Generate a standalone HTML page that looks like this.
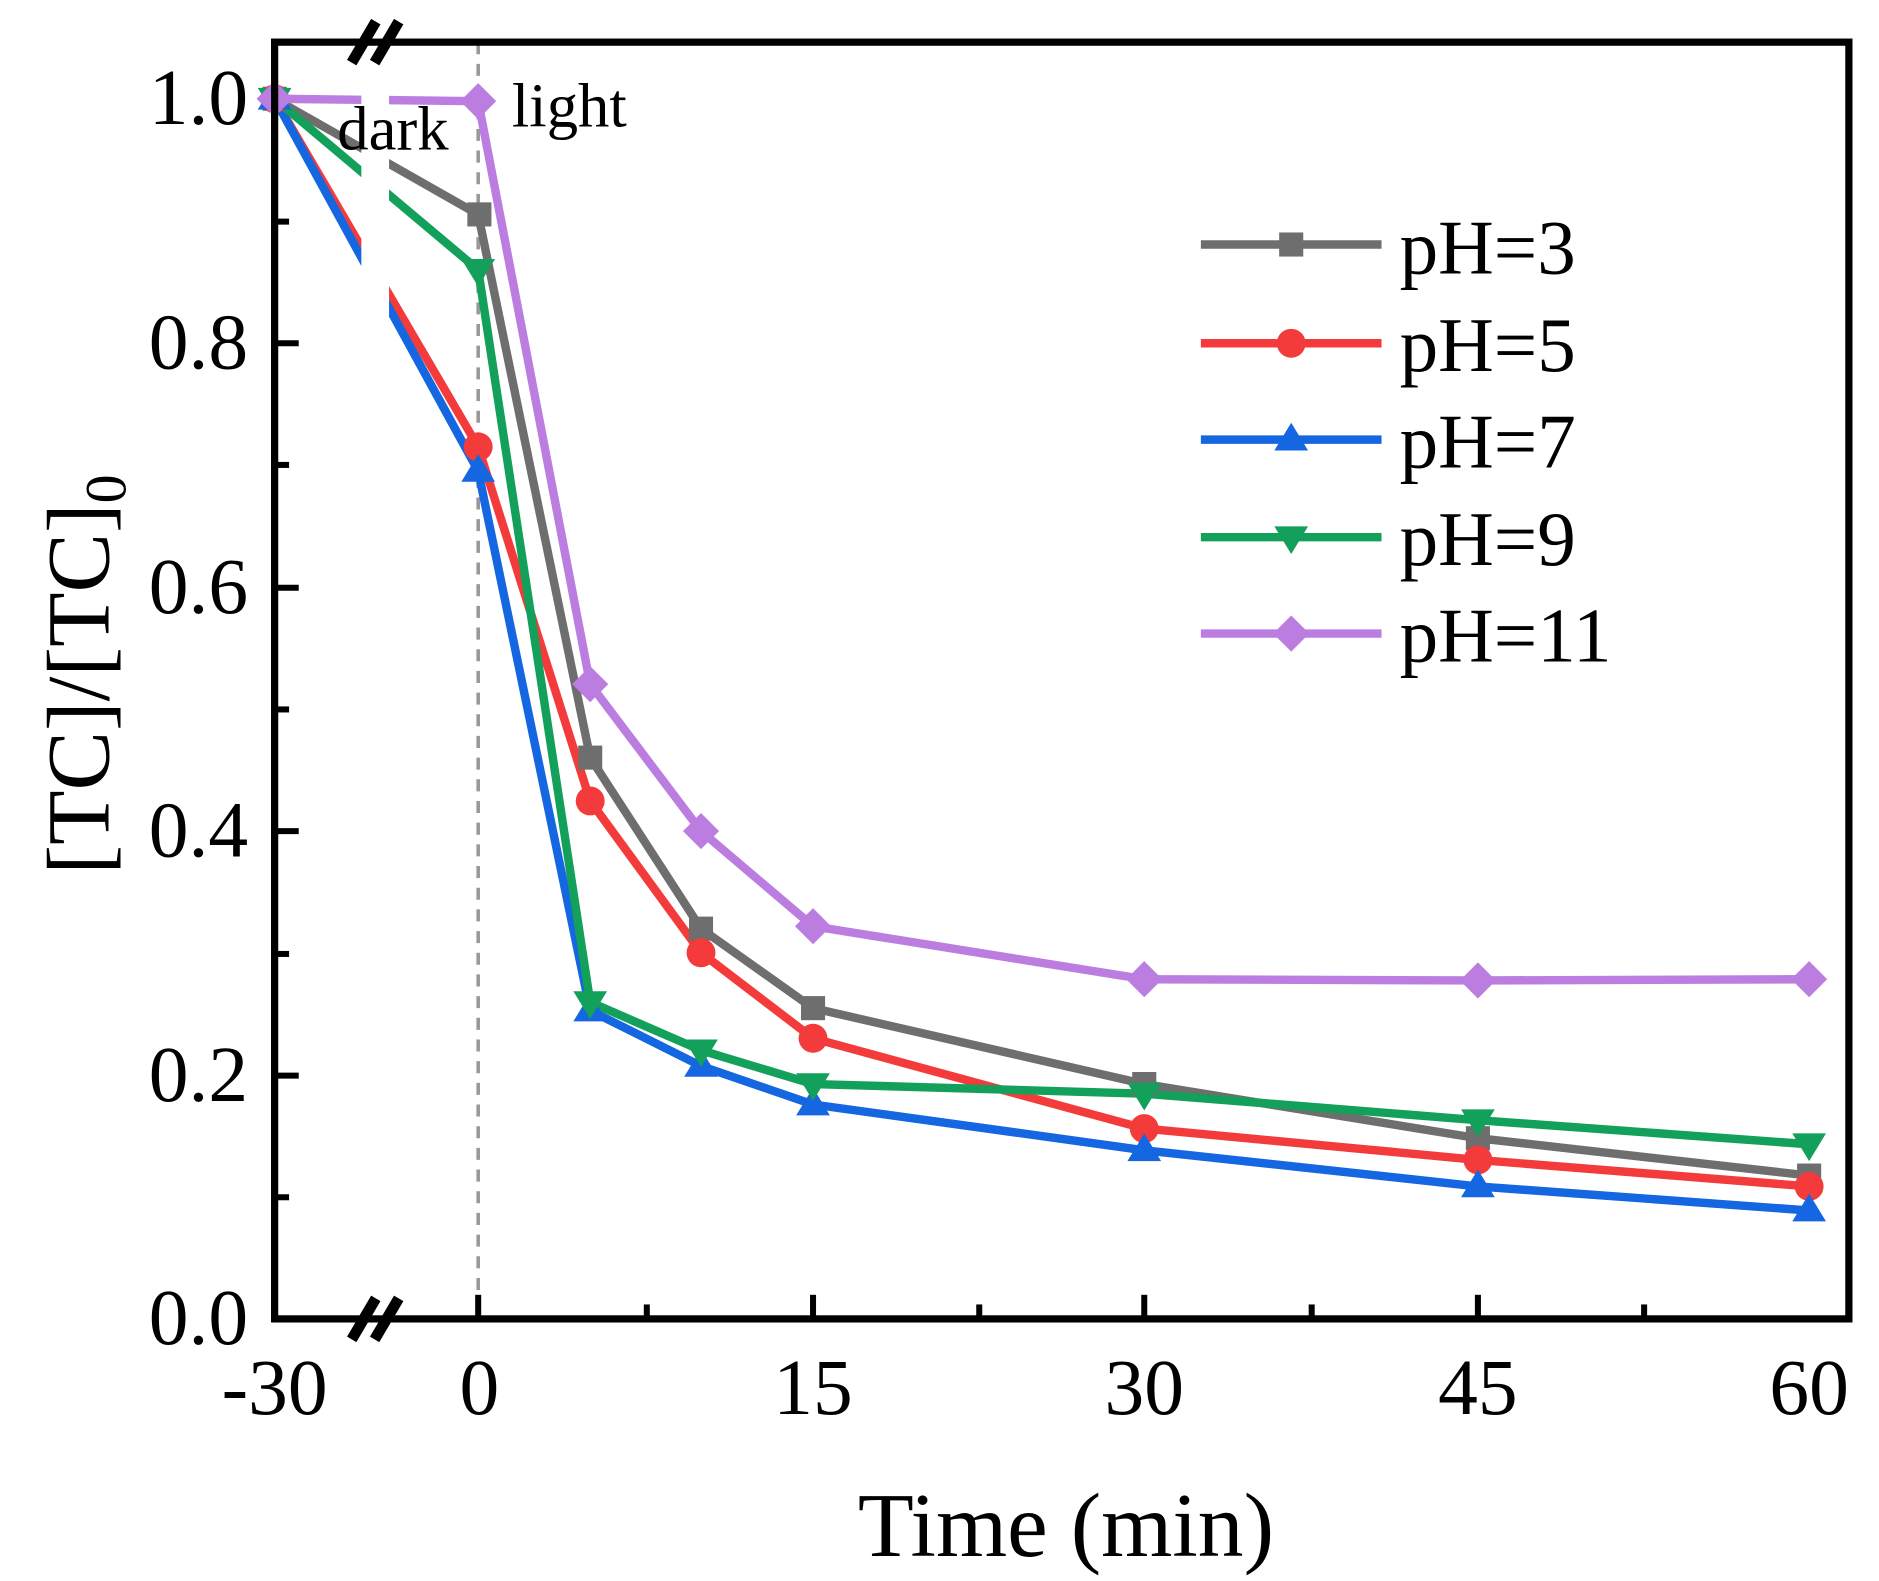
<!DOCTYPE html>
<html><head><meta charset="utf-8"><style>html,body{margin:0;padding:0;background:#fff}svg{display:block}</style></head><body>
<svg width="1879" height="1581" viewBox="0 0 1560 1312.6" xmlns="http://www.w3.org/2000/svg" font-family="Liberation Serif, serif">
<rect width="1560" height="1313" fill="#fff"/>
<line x1="397" y1="35" x2="397" y2="1095" stroke="#999" stroke-width="3" stroke-dasharray="10,8"/>
<g fill="none" stroke-width="7" stroke-linejoin="round">
<polyline stroke="#6e6e6e" points="228,82 397,178 490,629 582,771 675,837 950,900 1227,945 1502,976"/>
<polyline stroke="#f33b3b" points="228,82 397,371 490,665 582,791 675,862 950,937 1227,963 1502,985"/>
<polyline stroke="#1467e0" points="228,82 397,391 490,839 582,885 675,917 950,955 1227,985 1502,1005"/>
<polyline stroke="#12a05a" points="228,82 397,224 490,832 582,872 675,900 950,908 1227,930 1502,950"/>
<polyline stroke="#bb7ee0" points="228,82 397,84 490,568 582,690 675,769 950,813 1227,814 1502,813"/>
</g>
<rect x="300" y="38" width="23" height="1052" fill="#fff"/>
<g fill="#6e6e6e"><rect x="388" y="168" width="20" height="20"/><rect x="480" y="619" width="20" height="20"/><rect x="572" y="761" width="20" height="20"/><rect x="665" y="827" width="20" height="20"/><rect x="940" y="890" width="20" height="20"/><rect x="1217" y="935" width="20" height="20"/><rect x="1492" y="966" width="20" height="20"/><rect x="218" y="72" width="20" height="20"/></g>
<g fill="#f33b3b"><circle cx="228" cy="82" r="12"/><circle cx="397" cy="371" r="12"/><circle cx="490" cy="665" r="12"/><circle cx="582" cy="791" r="12"/><circle cx="675" cy="862" r="12"/><circle cx="950" cy="937" r="12"/><circle cx="1227" cy="963" r="12"/><circle cx="1502" cy="985" r="12"/></g>
<g fill="#1467e0"><path d="M228,68l14,23h-28z"/><path d="M397,377l14,23h-28z"/><path d="M490,825l14,23h-28z"/><path d="M582,871l14,23h-28z"/><path d="M675,903l14,23h-28z"/><path d="M950,941l14,23h-28z"/><path d="M1227,971l14,23h-28z"/><path d="M1502,991l14,23h-28z"/></g>
<g fill="#12a05a"><path d="M228,96l14,-23h-28z"/><path d="M397,238l14,-23h-28z"/><path d="M490,846l14,-23h-28z"/><path d="M582,886l14,-23h-28z"/><path d="M675,914l14,-23h-28z"/><path d="M950,922l14,-23h-28z"/><path d="M1227,944l14,-23h-28z"/><path d="M1502,964l14,-23h-28z"/></g>
<g fill="#bb7ee0"><path d="M228,67l15,15l-15,15l-15,-15z"/><path d="M397,69l15,15l-15,15l-15,-15z"/><path d="M490,553l15,15l-15,15l-15,-15z"/><path d="M582,675l15,15l-15,15l-15,-15z"/><path d="M675,754l15,15l-15,15l-15,-15z"/><path d="M950,798l15,15l-15,15l-15,-15z"/><path d="M1227,799l15,15l-15,15l-15,-15z"/><path d="M1502,798l15,15l-15,15l-15,-15z"/></g>
<rect x="228" y="35" width="1307" height="1060" fill="none" stroke="#000" stroke-width="6"/>
<g stroke="#000" stroke-width="9">
<line x1="292" y1="52" x2="312" y2="18"/><line x1="311" y1="52" x2="331" y2="18"/>
<line x1="292" y1="1112" x2="312" y2="1078"/><line x1="311" y1="1112" x2="331" y2="1078"/>
</g>
<g stroke="#000" stroke-width="5">
<line x1="228" y1="994" x2="240" y2="994"/><line x1="228" y1="792" x2="240" y2="792"/><line x1="228" y1="589" x2="240" y2="589"/><line x1="228" y1="386" x2="240" y2="386"/><line x1="228" y1="184" x2="240" y2="184"/>
<line x1="228" y1="893" x2="248" y2="893"/><line x1="228" y1="690" x2="248" y2="690"/><line x1="228" y1="488" x2="248" y2="488"/><line x1="228" y1="285" x2="248" y2="285"/>
<line x1="537" y1="1095" x2="537" y2="1083"/><line x1="813" y1="1095" x2="813" y2="1083"/><line x1="1089" y1="1095" x2="1089" y2="1083"/><line x1="1365" y1="1095" x2="1365" y2="1083"/>
<line x1="397" y1="1095" x2="397" y2="1075"/><line x1="675" y1="1095" x2="675" y2="1075"/><line x1="950" y1="1095" x2="950" y2="1075"/><line x1="1227" y1="1095" x2="1227" y2="1075"/>
</g>
<g font-size="66" text-anchor="end"><text x="206" y="1116">0.0</text><text x="206" y="914">0.2</text><text x="206" y="711">0.4</text><text x="206" y="509">0.6</text><text x="206" y="306">0.8</text><text x="206" y="103">1.0</text></g>
<g font-size="66" text-anchor="middle"><text x="228" y="1174">-30</text><text x="398" y="1174">0</text><text x="675" y="1174">15</text><text x="950" y="1174">30</text><text x="1227" y="1174">45</text><text x="1502" y="1174">60</text></g>
<text x="885" y="1292" font-size="76" text-anchor="middle">Time (min)</text>
<text transform="translate(90,560) rotate(-90)" font-size="74" text-anchor="middle">[TC]/[TC]<tspan font-size="48" dy="14">0</tspan></text>
<text x="280" y="124" font-size="52">dark</text>
<text x="425" y="105" font-size="52">light</text>
<g stroke-width="7"><line x1="997" y1="203" x2="1147" y2="203" stroke="#6e6e6e"/><line x1="997" y1="285" x2="1147" y2="285" stroke="#f33b3b"/><line x1="997" y1="365" x2="1147" y2="365" stroke="#1467e0"/><line x1="997" y1="446" x2="1147" y2="446" stroke="#12a05a"/><line x1="997" y1="526" x2="1147" y2="526" stroke="#bb7ee0"/></g>
<rect x="1062" y="193" width="20" height="20" fill="#6e6e6e"/><circle cx="1072" cy="285" r="12" fill="#f33b3b"/><path d="M1072,351l14,23h-28z" fill="#1467e0"/><path d="M1072,460l14,-23h-28z" fill="#12a05a"/><path d="M1072,511l15,15l-15,15l-15,-15z" fill="#bb7ee0"/>
<g font-size="64"><text x="1162" y="227">pH=3</text><text x="1162" y="308">pH=5</text><text x="1162" y="388">pH=7</text><text x="1162" y="469">pH=9</text><text x="1162" y="549">pH=11</text></g>
</svg>
</body></html>
